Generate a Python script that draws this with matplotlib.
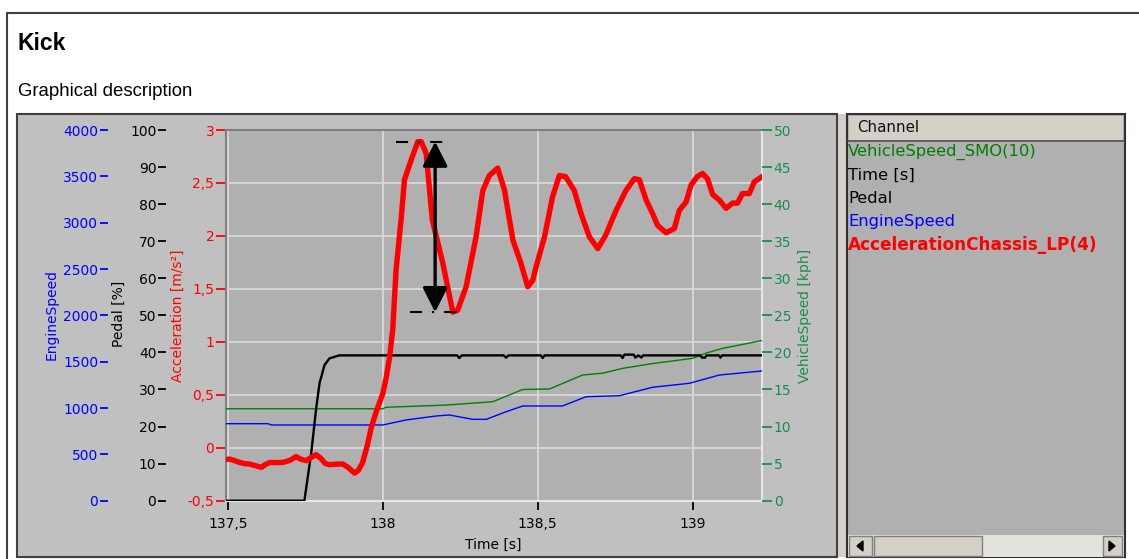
import matplotlib
matplotlib.use('Agg')
import matplotlib.pyplot as plt
from matplotlib.patches import Rectangle, Polygon
from matplotlib.ticker import FuncFormatter, MultipleLocator

# ---------------- measured channels ----------------
acc_t = [137.494, 137.505, 137.52, 137.538, 137.555, 137.57, 137.59, 137.608, 137.62,
         137.635, 137.655, 137.677, 137.70, 137.72, 137.737, 137.753, 137.77, 137.785,
         137.80, 137.815, 137.828, 137.85, 137.871, 137.89, 137.909, 137.922, 137.935,
         137.95, 137.963, 137.98, 138.0, 138.011, 138.022, 138.032, 138.043, 138.059,
         138.07, 138.092, 138.113, 138.124, 138.14, 138.16, 138.194, 138.226, 138.242,
         138.269, 138.301, 138.323, 138.344, 138.371, 138.393, 138.42, 138.445, 138.468,
         138.484, 138.495, 138.522, 138.548, 138.57, 138.59, 138.618, 138.64, 138.667,
         138.694, 138.72, 138.753, 138.785, 138.812, 138.828, 138.85, 138.871, 138.887,
         138.914, 138.941, 138.957, 138.979, 138.995, 139.015, 139.032, 139.048, 139.065,
         139.086, 139.108, 139.129, 139.145, 139.161, 139.183, 139.199, 139.224]
acc_v = [-0.11, -0.107, -0.12, -0.139, -0.15, -0.154, -0.17, -0.185, -0.16,
         -0.139, -0.14, -0.139, -0.12, -0.084, -0.11, -0.122, -0.09, -0.065,
         -0.10, -0.15, -0.16, -0.155, -0.153, -0.19, -0.24, -0.21, -0.139,
         0.02, 0.193, 0.35, 0.51, 0.66, 0.855, 1.11, 1.68, 2.15,
         2.53, 2.72, 2.89, 2.89, 2.78, 2.15, 1.74, 1.28, 1.30,
         1.52, 1.99, 2.43, 2.57, 2.64, 2.43, 1.96, 1.75, 1.52,
         1.58, 1.71, 1.99, 2.37, 2.57, 2.56, 2.43, 2.21, 1.99,
         1.88, 2.01, 2.24, 2.43, 2.54, 2.53, 2.34, 2.21, 2.10,
         2.03, 2.07, 2.24, 2.32, 2.48, 2.56, 2.59, 2.54, 2.39,
         2.34, 2.26, 2.31, 2.31, 2.40, 2.40, 2.51, 2.56]

pedal_t = [137.494, 137.747, 137.755, 137.769, 137.785, 137.796, 137.812, 137.828,
           137.86, 138.24, 138.247, 138.255, 138.39, 138.398, 138.406, 138.51, 138.516,
           138.522, 138.768, 138.774, 138.78, 138.81, 138.815, 138.825, 138.835, 138.84,
           139.025, 139.03, 139.04, 139.045, 139.085, 139.09, 139.095, 139.224]
pedal_v = [0.0, 0.0, 4.7, 12.8, 24.9, 31.7, 36.6, 38.4,
           39.2, 39.2, 38.5, 39.2, 39.2, 38.6, 39.2, 39.2, 38.5,
           39.2, 39.2, 38.5, 39.4, 39.4, 38.6, 39.2, 38.6, 39.2,
           39.2, 38.6, 38.6, 39.2, 39.2, 38.6, 39.2, 39.2]

rpm_t = [137.494, 137.63, 137.64, 138.0, 138.075, 138.172, 138.215, 138.29, 138.334,
         138.398, 138.452, 138.58, 138.656, 138.764, 138.871, 138.99, 139.086, 139.224]
rpm_v = [831, 831, 817, 817, 871, 914, 925, 878, 878,
         960, 1022, 1022, 1122, 1133, 1224, 1267, 1356, 1400]

speed_t = [137.494, 138.0, 138.011, 138.205, 138.355, 138.452, 138.538, 138.645,
           138.71, 138.774, 138.871, 139.0, 139.043, 139.097, 139.224]
speed_v = [12.4, 12.4, 12.6, 12.9, 13.35, 15.0, 15.07, 16.95,
           17.2, 17.85, 18.5, 19.2, 19.9, 20.55, 21.6]

time_ticks = [137.5, 138.0, 138.5, 139.0]
channels = ["VehicleSpeed_SMO(10)", "Time [s]", "Pedal", "EngineSpeed",
            "AccelerationChassis_LP(4)"]

# ---------------- colours ----------------
C_ACC = '#ff0000'
C_PEDAL = '#000000'
C_RPM = '#0000ff'
C_SPEED_LINE = '#008000'
C_SPEED_TXT = '#1a8c50'
PANEL = '#c0c0c0'
PLOT_BG = '#b0b0b0'
BEIGE = '#d4d0c8'

W, H, DPI = 1139, 559, 100
fig = plt.figure(figsize=(W / DPI, H / DPI), dpi=DPI, facecolor='white')


def fx(px):
    return px / W


def fy(py):
    return 1 - py / H


def box(x0, y0, x1, y1, **kw):
    kw.setdefault('zorder', -5)
    r = Rectangle((fx(x0), fy(y1)), fx(x1) - fx(x0), fy(y0) - fy(y1),
                  transform=fig.transFigure, **kw)
    fig.add_artist(r)
    return r


def hline(x0, x1, y, **kw):
    fig.add_artist(plt.Line2D([fx(x0), fx(x1)], [fy(y), fy(y)],
                              transform=fig.transFigure, **kw))


def vline(x, y0, y1, **kw):
    fig.add_artist(plt.Line2D([fx(x), fx(x)], [fy(y0), fy(y1)],
                              transform=fig.transFigure, **kw))


def comma(v, pos=None):
    return f'{v:g}'.replace('.', ',')


# ---------------- page frame and headings ----------------
vline(7, 559, 13, color='#404040', lw=1.5)
hline(7, 1139, 13, color='#404040', lw=1.5)
fig.text(fx(17.5), fy(43), 'Kick', fontsize=16.5, fontweight='bold',
         family='Liberation Sans', ha='left', va='center')
fig.text(fx(17.5), fy(92), 'Graphical description', fontsize=13.4,
         family='Liberation Sans', ha='left', va='center')

# chart panel, separator and channel list
box(17, 114, 837, 557, facecolor=PANEL, edgecolor='#404040', lw=1.5)
box(838, 114, 846, 557, facecolor=BEIGE, edgecolor='none')
box(847, 114, 1125, 557, facecolor=PLOT_BG, edgecolor='#303030', lw=1.5)
box(849, 116, 1123, 140, facecolor=BEIGE, edgecolor='none', zorder=-4)
hline(848, 1124, 140.5, color='#505050', lw=1.2)
fig.text(fx(857), fy(128), 'Channel', fontsize=10.8, family='DejaVu Sans',
         ha='left', va='center', color='#101010')

legend_colors = [C_SPEED_LINE, '#000000', '#000000', C_RPM, C_ACC]
legend_weight = ['normal', 'normal', 'normal', 'normal', 'bold']
legend_size = [11.8, 11.8, 11.8, 11.8, 12.2]
for i, name in enumerate(channels):
    fig.text(fx(848), fy(152 + 23.3 * i), name, fontsize=legend_size[i],
             color=legend_colors[i], fontweight=legend_weight[i],
             family='DejaVu Sans', ha='left', va='center')

# scrollbar
box(848, 535, 1124, 557, facecolor='#e4e2dc', edgecolor='none', zorder=-4)
box(849, 536, 872, 556, facecolor=BEIGE, edgecolor='#808080', lw=1, zorder=-3)
box(874, 536, 982, 556, facecolor=BEIGE, edgecolor='#808080', lw=1, zorder=-3)
box(1103, 536, 1122, 556, facecolor=BEIGE, edgecolor='#808080', lw=1, zorder=-3)
fig.add_artist(Polygon([[fx(857), fy(546)], [fx(863), fy(541)], [fx(863), fy(551)]],
                       closed=True, transform=fig.transFigure, color='black'))
fig.add_artist(Polygon([[fx(1115), fy(546)], [fx(1109), fy(541)], [fx(1109), fy(551)]],
                       closed=True, transform=fig.transFigure, color='black'))

# ---------------- plot area ----------------
L, T, R, B = 226, 130, 762, 500.7
rect = [fx(L), fy(B), fx(R) - fx(L), fy(T) - fy(B)]
PT = 0.72  # points per pixel at 100 dpi

ax = fig.add_axes(rect, facecolor=PLOT_BG)
ax.set_xlim(137.494, 139.224)
ax.set_ylim(-0.5, 3.0)
ax.set_xticks(time_ticks)
ax.xaxis.set_major_formatter(FuncFormatter(comma))
ax.yaxis.set_major_locator(MultipleLocator(0.5))
ax.yaxis.set_major_formatter(FuncFormatter(comma))
ax.grid(True, color='#d8d8d8', lw=1.3)
ax.set_axisbelow(True)
ax.tick_params(axis='y', colors=C_ACC, length=10 * PT, width=1.3, pad=1.2, labelsize=10)
ax.tick_params(axis='x', colors='black', length=9 * PT, width=1.3, pad=7 * PT, labelsize=10)
for s in ('top', 'left'):
    ax.spines[s].set_color('#808080')
for s in ('bottom', 'right'):
    ax.spines[s].set_color('#e6e6e6')
for s in ax.spines.values():
    s.set_linewidth(1.5)


def side_axis(offset_px, lim, step, color, fmt, side, ticklen_px):
    a = ax.twinx()
    a.set_ylim(*lim)
    for s in a.spines.values():
        s.set_visible(False)
    a.yaxis.set_ticks_position(side)
    a.spines[side].set_position(('outward', offset_px * PT))
    a.yaxis.set_major_locator(MultipleLocator(step))
    a.yaxis.set_major_formatter(FuncFormatter(fmt))
    a.tick_params(axis='y', colors=color, length=ticklen_px * PT, width=1.3,
                  pad=1.2, labelsize=10)
    a.grid(False)
    return a


ax_speed = side_axis(0, (0, 50), 5, C_SPEED_TXT, lambda v, p: f'{v:.0f}', 'right', 10)
ax_rpm = side_axis(118, (0, 4000), 500, C_RPM, lambda v, p: f'{v:.0f}', 'left', 8)
ax_pedal = side_axis(60, (0, 100), 10, C_PEDAL, lambda v, p: f'{v:.0f}', 'left', 8)

ax_speed.plot(speed_t, speed_v, color=C_SPEED_LINE, lw=1.0)
ax_rpm.plot(rpm_t, rpm_v, color=C_RPM, lw=1.0)
ax_pedal.plot(pedal_t, pedal_v, color=C_PEDAL, lw=1.7)

# acceleration on top of everything, same scale as the red axis
ax_acc = fig.add_axes(rect, sharex=ax, sharey=ax)
ax_acc.patch.set_visible(False)
ax_acc.axis('off')
ax_acc.plot(acc_t, acc_v, color=C_ACC, lw=3.9, solid_joinstyle='round',
            solid_capstyle='round')

# overshoot marker: first peak down to the following trough
i_peak = max(range(len(acc_v)), key=lambda i: acc_v[i])
i_trough = min(range(i_peak, i_peak + 8), key=lambda i: acc_v[i])
peak, trough = acc_v[i_peak], acc_v[i_trough]
x_arrow = 138.169
ax_acc.annotate('', xy=(x_arrow, peak), xytext=(x_arrow, trough),
                arrowprops=dict(arrowstyle='<|-|>,head_length=0.75,head_width=0.38',
                                mutation_scale=20, lw=2.4, color='black',
                                shrinkA=0, shrinkB=0))
dashdot = (0, (5.8, 4.8, 1, 4.8))
ax_acc.plot([x_arrow - 0.126, x_arrow + 0.052], [peak, peak], color='black',
            lw=1.5, linestyle=dashdot)
ax_acc.plot([x_arrow - 0.08, x_arrow + 0.084], [trough, trough], color='black',
            lw=1.5, linestyle=dashdot)

# axis titles
fig.text(fx(52), fy(315), 'EngineSpeed', rotation=90, color=C_RPM, fontsize=10,
         ha='center', va='center')
fig.text(fx(119), fy(314), 'Pedal [%]', rotation=90, color='black', fontsize=10,
         ha='center', va='center')
fig.text(fx(177.5), fy(316), 'Acceleration [m/s²]', rotation=90, color=C_ACC,
         fontsize=10, ha='center', va='center')
fig.text(fx(805), fy(316), 'VehicleSpeed [kph]', rotation=90, color=C_SPEED_TXT,
         fontsize=10, ha='center', va='center')
fig.text(fx(493), fy(545), 'Time [s]', color='black', fontsize=10,
         ha='center', va='center')

fig.savefig('out.png', dpi=DPI, facecolor='white')
